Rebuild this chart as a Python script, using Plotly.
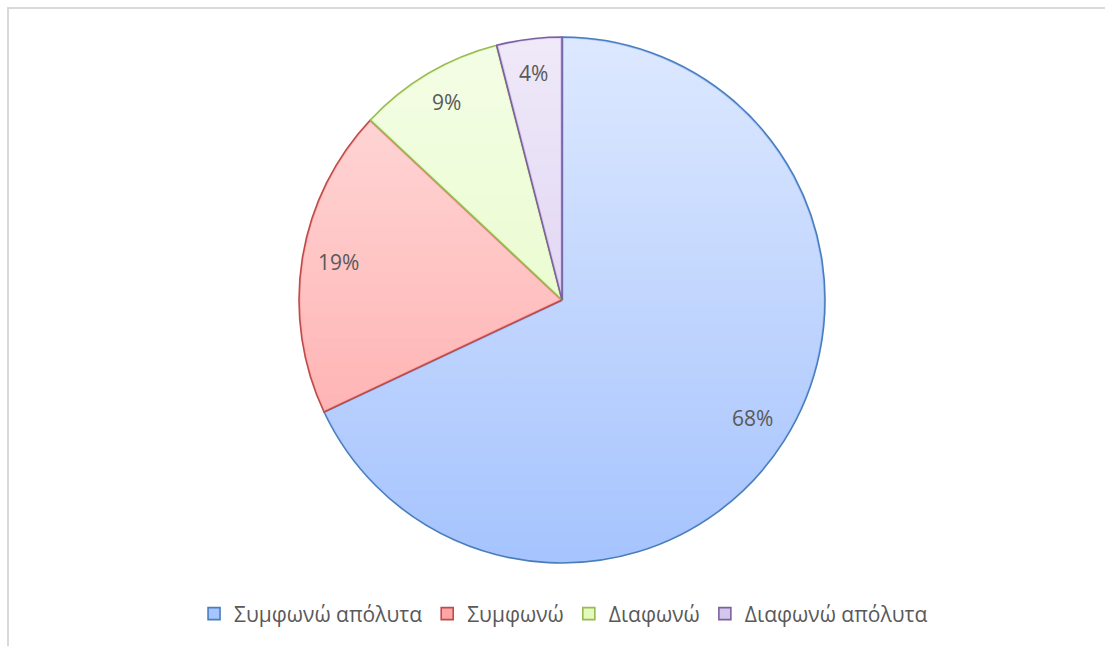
import base64
import math
import plotly.graph_objects as go

# Survey answers and their shares (%)
labels = ["Συμφωνώ απόλυτα", "Συμφωνώ", "Διαφωνώ", "Διαφωνώ απόλυτα"]
values = [68, 19, 9, 4]
fill_colors = ["#a6c4fe", "#ffa5a5", "#e2fbbd", "#d5c6ee"]
edge_colors = ["#4a7ebb", "#be4b48", "#98b954", "#7d60a0"]

W, H = 1105, 646
CX, CY, R = 562, 300, 263          # pie centre / radius in pixels
TEXT_COLOR = "#595959"
FONT = "Open Sans"

fig = go.Figure()

fig.add_trace(go.Pie(
    labels=labels,
    values=values,
    sort=False,
    direction="clockwise",
    rotation=0,
    textinfo="none",
    hoverinfo="label+percent",
    marker=dict(colors=fill_colors, line=dict(color=edge_colors, width=1.6)),
    domain=dict(x=[(CX - (W - CX)) / W, 1],
                y=[(H - CY - R) / H, (H - CY + R) / H]),
))

# Slice boundary angles (clockwise from 12 o'clock), used to keep the sheen off the edges
total = sum(values)
bounds = []
acc = 0
for v in values:
    bounds.append(acc / total * 2 * math.pi)
    acc += v
gaps = "".join(
    f"<line x1='{R}' y1='{R}' x2='{R + R * math.sin(a):.2f}' y2='{R - R * math.cos(a):.2f}' "
    f"stroke='black' stroke-width='3.5'/>"
    for a in bounds
)

# Soft vertical white sheen over the pie (light at top, clear at bottom)
sheen_svg = f"""<svg xmlns='http://www.w3.org/2000/svg' width='{2*R}' height='{2*R}' viewBox='0 0 {2*R} {2*R}'>
<defs>
<linearGradient id='g' x1='0' y1='0' x2='0' y2='1'>
<stop offset='0' stop-color='#ffffff' stop-opacity='0.62'/>
<stop offset='1' stop-color='#ffffff' stop-opacity='0'/>
</linearGradient>
<mask id='m' maskUnits='userSpaceOnUse' x='0' y='0' width='{2*R}' height='{2*R}'>
<rect x='0' y='0' width='{2*R}' height='{2*R}' fill='white'/>{gaps}
</mask>
</defs>
<circle cx='{R}' cy='{R}' r='{R-1.6}' fill='url(#g)' mask='url(#m)'/>
</svg>"""
sheen_uri = "data:image/svg+xml;base64," + base64.b64encode(sheen_svg.encode()).decode()
fig.add_layout_image(dict(
    source=sheen_uri, xref="paper", yref="paper",
    x=(CX - R) / W, y=1 - (CY - R) / H,
    sizex=2 * R / W, sizey=2 * R / H,
    xanchor="left", yanchor="top", sizing="stretch", layer="above",
))

# Percentage labels placed along each slice's mid-angle
cum = 0
for v in values:
    mid = (cum + v / 2) / total * 2 * math.pi
    cum += v
    r_lab = 0.86 * R
    px = CX + r_lab * math.sin(mid)
    py = CY - r_lab * math.cos(mid) - 3
    fig.add_annotation(
        x=px / W, y=1 - py / H, xref="paper", yref="paper",
        text=f"{round(v / total * 100)}%", showarrow=False,
        font=dict(family=FONT, size=21, color=TEXT_COLOR),
        xanchor="center", yanchor="middle",
    )

# Light frame along the top and left edges
fig.add_shape(
    type="path", xref="paper", yref="paper",
    path=f"M {8/W} 0 L {8/W} {1-8/H} L 1 {1-8/H}",
    line=dict(color="#d9d9d9", width=2),
)

fig.update_layout(
    width=W, height=H,
    margin=dict(l=0, r=0, t=0, b=0),
    paper_bgcolor="white",
    plot_bgcolor="white",
    font=dict(family=FONT, color=TEXT_COLOR),
    showlegend=True,
    legend=dict(
        orientation="h", x=0.51, xanchor="center", y=1 - 614 / H, yanchor="middle",
        font=dict(family=FONT, size=21, color=TEXT_COLOR),
        itemwidth=30, traceorder="normal",
    ),
)

fig.write_html("out.html")
